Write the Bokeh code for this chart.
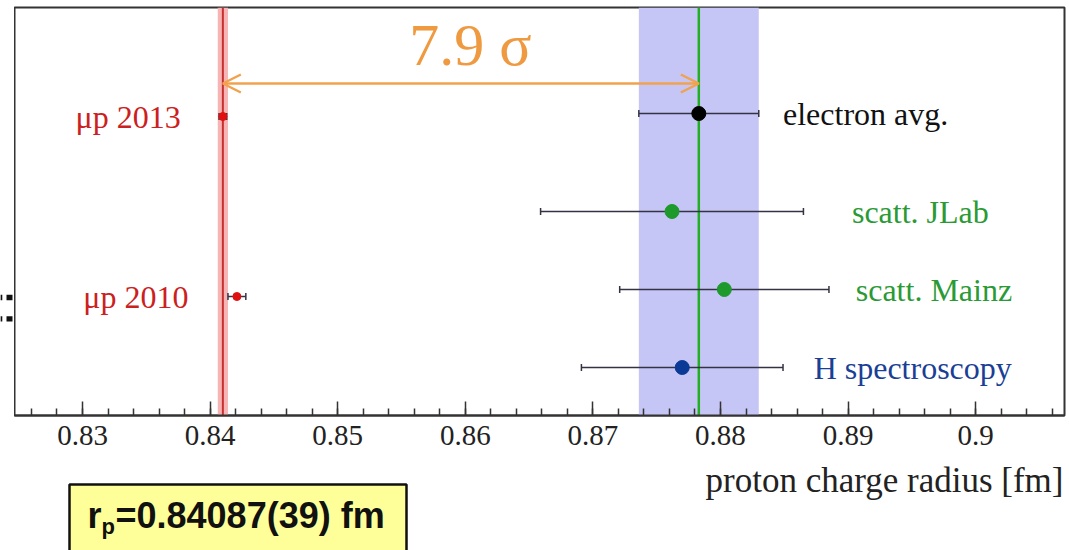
from bokeh.plotting import figure
from bokeh.layouts import column, row
from bokeh.models import (Range1d, FixedTicker, CustomJSTickFormatter, Span, BoxAnnotation,
                          Whisker, TeeHead, ColumnDataSource, Arrow, OpenHead)
from bokeh.core.properties import value
from bokeh.embed import file_html
from bokeh.resources import INLINE

# ---------------- data ----------------
names = ["electron avg.", "scatt. JLab", "scatt. Mainz", "H spectroscopy"]
radius = [0.8783, 0.8762, 0.8803, 0.8770]
err = [0.0047, 0.0103, 0.0082, 0.0079]
row_pos = [302, 204, 126, 48]
dot_colors = ["#000000", "#1e9a2c", "#1e9a2c", "#0b3a96"]
label_colors = ["#111111", "#2a9a35", "#2a9a35", "#1a3f95"]
label_x = [0.8849, 0.8903, 0.8906, 0.8873]

mu_names = ["μp 2013", "μp 2010"]
mu_radius = [0.8410, 0.8421]
mu_err = [0.0003, 0.0007]
mu_row = [299, 119]
mu_label_x = [0.8377, 0.8383]
mu_band_err = 0.0004

sigma_text = "7.9 σ"
sigma_x = 0.8556
sigma_row = 371
arrow_row = 332

tick_labels = ["0.83", "0.84", "0.85", "0.86", "0.87", "0.88", "0.89", "0.9"]
x_title = "proton charge radius [fm]"
result_main = "r"
result_sub = "p"
result_rest = "=0.84087(39) fm"

# cropped punctuation visible at the left edge of the slide
edge_mark_y = [327, 351]

SERIF = value("Liberation Serif")
SANS = value("Liberation Sans")


def bare(fig):
    fig.grid.visible = False
    fig.outline_line_color = None
    fig.background_fill_color = "white"
    fig.border_fill_color = "white"
    return fig


# ---------------- left edge strip ----------------
e = bare(figure(width=14, height=460, output_backend="svg", toolbar_location=None,
                x_range=Range1d(0, 14), y_range=Range1d(460, 0),
                x_axis_location=None, y_axis_location=None,
                min_border_left=0, min_border_right=0, min_border_top=0, min_border_bottom=0))
e.rect(x=[9] * 2, y=edge_mark_y, width=6, height=6, fill_color="#111111", line_color=None)
e.rect(x=[0.8] * 2, y=edge_mark_y, width=2, height=6, fill_color="#111111", line_color=None)

# ---------------- main chart ----------------
p = figure(width=1055, height=460, output_backend="svg", toolbar_location=None,
           x_range=Range1d(0.82467, 0.90696), y_range=Range1d(0, 408),
           y_axis_location=None,
           min_border_left=0, min_border_right=5, min_border_top=7, min_border_bottom=45)
p.xgrid.visible = False
p.ygrid.visible = False
p.background_fill_color = "white"
p.border_fill_color = "white"
p.outline_line_color = "#333333"
p.outline_line_width = 2

ticks = [float(t) for t in tick_labels]
minor = [round(0.824 + 0.002 * i, 3) for i in range(42)]
ax = p.xaxis[0]
ax.ticker = FixedTicker(ticks=ticks, minor_ticks=minor)
ax.formatter = CustomJSTickFormatter(code="return String(Math.round(tick*100)/100)")
ax.major_tick_in = 14
ax.major_tick_out = 0
ax.minor_tick_in = 7
ax.minor_tick_out = 0
ax.axis_line_color = "#333333"
ax.axis_line_width = 2
ax.major_tick_line_color = "#333333"
ax.minor_tick_line_color = "#333333"
ax.major_tick_line_width = 1.5
ax.minor_tick_line_width = 1.5
ax.major_label_text_font = "Liberation Serif"
ax.major_label_text_font_size = "29px"
ax.major_label_text_color = "#222222"
ax.major_label_standoff = 10

# bands and central lines
p.add_layout(BoxAnnotation(left=radius[0] - err[0], right=radius[0] + err[0],
                           fill_color="#c6c6f6", fill_alpha=1.0, line_alpha=0, level="underlay"))
p.add_layout(BoxAnnotation(left=mu_radius[0] - mu_band_err, right=mu_radius[0] + mu_band_err,
                           fill_color="#f7b4b4", fill_alpha=1.0, line_alpha=0, level="underlay"))
p.add_layout(Span(location=radius[0], dimension="height", line_color="#22b022",
                  line_width=2.5, level="underlay"))
p.add_layout(Span(location=mu_radius[0], dimension="height", line_color="#c83030",
                  line_width=2, level="underlay"))

# error bars
src = ColumnDataSource(dict(x=radius, lo=[r - d for r, d in zip(radius, err)],
                            hi=[r + d for r, d in zip(radius, err)], y=row_pos,
                            c=dot_colors, name=names, lx=label_x, lc=label_colors))
msrc = ColumnDataSource(dict(x=mu_radius, lo=[r - d for r, d in zip(mu_radius, mu_err)],
                             hi=[r + d for r, d in zip(mu_radius, mu_err)], y=mu_row,
                             name=mu_names, lx=mu_label_x))
for s in (src, msrc):
    p.add_layout(Whisker(source=s, base="y", lower="lo", upper="hi", dimension="width",
                         line_color="#333344", line_width=1.5, level="underlay",
                         lower_head=TeeHead(size=7, line_color="#333344", line_width=1.5),
                         upper_head=TeeHead(size=7, line_color="#333344", line_width=1.5)))

p.scatter("x", "y", source=src, size=14, fill_color="c", line_color="c")
p.scatter("x", "y", source=msrc, size=8, fill_color="#e01010", line_color="#e01010")

p.text("lx", "y", text="name", source=src, text_color="lc", text_font=SERIF,
       text_font_size=value("32px"), text_baseline="middle", text_align="left")
p.text("lx", "y", text="name", source=msrc, text_color="#cc2020", text_font=SERIF,
       text_font_size=value("32px"), text_baseline="middle", text_align="right")

# arrow and sigma
p.add_layout(Arrow(x_start=mu_radius[0], y_start=arrow_row, x_end=radius[0], y_end=arrow_row,
                   line_color="#f2a24e", line_width=2.5,
                   start=OpenHead(size=18, line_color="#f2a24e", line_width=2.5),
                   end=OpenHead(size=18, line_color="#f2a24e", line_width=2.5)))
p.text([sigma_x], [sigma_row], text=[sigma_text], text_color="#ef9a40", text_font=SERIF,
       text_font_size=value("60px"), text_baseline="middle", text_align="left")

# ---------------- strip below: axis title and result box ----------------
q = bare(figure(width=1069, height=90, output_backend="svg", toolbar_location=None,
                x_range=Range1d(0, 1069), y_range=Range1d(550, 460),
                x_axis_location=None, y_axis_location=None,
                min_border_left=0, min_border_right=0, min_border_top=0, min_border_bottom=0))

q.text([1063], [480], text=[x_title], text_font=SERIF, text_font_size=value("35px"),
       text_color="#222222", text_align="right", text_baseline="middle")
q.quad(left=[69], right=[406], top=[484], bottom=[556], fill_color="#ffff99",
       line_color="#111111", line_width=2.5)
q.text([87], [515], text=[result_main], text_font=SANS, text_font_style="bold",
       text_font_size=value("36px"), text_color="#111111", text_baseline="middle")
q.text([101], [526], text=[result_sub], text_font=SANS, text_font_style="bold",
       text_font_size=value("22px"), text_color="#111111", text_baseline="middle")
q.text([115], [515], text=[result_rest], text_font=SANS, text_font_style="bold",
       text_font_size=value("36px"), text_color="#111111", text_baseline="middle")

layout = column(row(e, p, spacing=0), q, spacing=0)
open("out.html", "w").write(file_html(layout, INLINE))
